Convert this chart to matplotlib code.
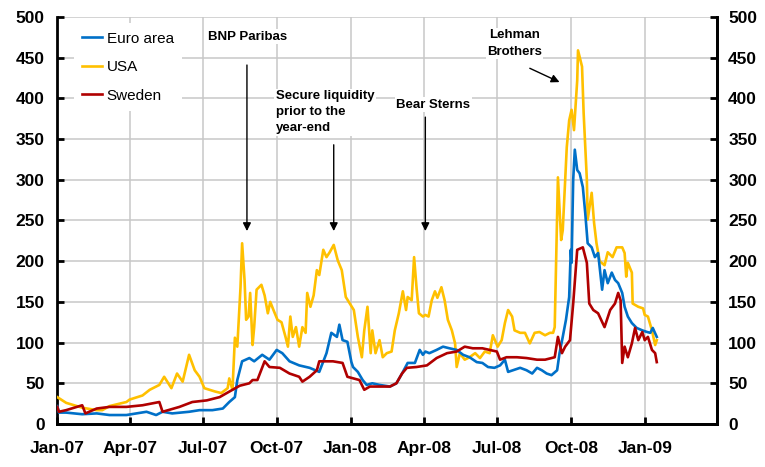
import pandas as pd
import matplotlib.pyplot as plt
import matplotlib.dates as mdates

plt.rcParams['font.family'] = ['Liberation Sans', 'DejaVu Sans']

# spreads, basis points
usa_dates = ['2007-01-01', '2007-01-12', '2007-02-01', '2007-02-19', '2007-02-26', '2007-03-07',
             '2007-03-28', '2007-04-01', '2007-04-17', '2007-04-26', '2007-05-08', '2007-05-14',
             '2007-05-23', '2007-05-30', '2007-06-06', '2007-06-14', '2007-06-21', '2007-06-27',
             '2007-07-03', '2007-07-16', '2007-07-24', '2007-08-01', '2007-08-03', '2007-08-07',
             '2007-08-10', '2007-08-13', '2007-08-17', '2007-08-19', '2007-08-22', '2007-08-24',
             '2007-08-27', '2007-08-29', '2007-09-01', '2007-09-03', '2007-09-06', '2007-09-12',
             '2007-09-16', '2007-09-20', '2007-09-23', '2007-09-27', '2007-10-02', '2007-10-07',
             '2007-10-12', '2007-10-15', '2007-10-18', '2007-10-21', '2007-10-25', '2007-10-29',
             '2007-11-02', '2007-11-06', '2007-11-08', '2007-11-12', '2007-11-16', '2007-11-20',
             '2007-11-23', '2007-11-28', '2007-12-02', '2007-12-06', '2007-12-11', '2007-12-16',
             '2007-12-21', '2007-12-26', '2007-12-31', '2008-01-05', '2008-01-10', '2008-01-15',
             '2008-01-18', '2008-01-22', '2008-01-26', '2008-01-28', '2008-02-01', '2008-02-06',
             '2008-02-10', '2008-02-15', '2008-02-21', '2008-02-25', '2008-03-01', '2008-03-06',
             '2008-03-10', '2008-03-12', '2008-03-17', '2008-03-20', '2008-03-23', '2008-03-26',
             '2008-03-31', '2008-04-03', '2008-04-07', '2008-04-11', '2008-04-15', '2008-04-18',
             '2008-04-23', '2008-04-27', '2008-05-01', '2008-05-06', '2008-05-10', '2008-05-12',
             '2008-05-16', '2008-05-22', '2008-05-28', '2008-06-04', '2008-06-10', '2008-06-16',
             '2008-06-22', '2008-06-26', '2008-07-02', '2008-07-07', '2008-07-11', '2008-07-15',
             '2008-07-20', '2008-07-23', '2008-07-30', '2008-08-05', '2008-08-11', '2008-08-17',
             '2008-08-23', '2008-08-30', '2008-09-05', '2008-09-09', '2008-09-11', '2008-09-15',
             '2008-09-19', '2008-09-21', '2008-09-24', '2008-09-26', '2008-09-29', '2008-10-02',
             '2008-10-05', '2008-10-09', '2008-10-10', '2008-10-15', '2008-10-17', '2008-10-21',
             '2008-10-22', '2008-10-27', '2008-10-30', '2008-11-02', '2008-11-06', '2008-11-12',
             '2008-11-16', '2008-11-22', '2008-11-27', '2008-12-04', '2008-12-07', '2008-12-09',
             '2008-12-11', '2008-12-16', '2008-12-17', '2008-12-24', '2008-12-30', '2009-01-01',
             '2009-01-05', '2009-01-10', '2009-01-14', '2009-01-16']
usa_values = [33, 26, 20, 17, 17, 22,
              27, 30, 35, 42, 48, 58,
              44, 62, 52, 85, 66, 58,
              44, 40, 38, 44, 56, 42,
              106, 95, 168, 222, 177, 128,
              132, 161, 97, 119, 165, 171,
              158, 136, 150, 140, 128, 125,
              107, 95, 132, 107, 119, 95,
              119, 112, 161, 144, 158, 189,
              183, 214, 205, 211, 220, 201,
              189, 156, 148, 140, 107, 82,
              115, 144, 87, 115, 87, 103,
              82, 87, 89, 115, 136, 163,
              140, 156, 152, 205, 168, 136,
              132, 134, 132, 152, 163, 155,
              168, 152, 128, 115, 99, 70,
              87, 79, 82, 87, 81, 89,
              87, 109, 95, 103, 124, 140,
              132, 115, 112, 112, 99, 112,
              113, 109, 112, 112, 119, 303,
              226, 238, 300, 340, 373, 386,
              361, 422, 459, 439, 382, 300,
              251, 284, 247, 222, 200, 195,
              211, 205, 217, 217, 210, 181,
              198, 186, 148, 144, 142, 134,
              132, 115, 97, 103]

euro_dates = ['2007-01-01', '2007-01-03', '2007-01-12', '2007-02-01', '2007-02-19', '2007-03-07',
              '2007-03-28', '2007-04-22', '2007-05-04', '2007-05-12', '2007-05-24', '2007-06-14',
              '2007-06-27', '2007-07-13', '2007-07-26', '2007-08-03', '2007-08-10', '2007-08-13',
              '2007-08-19', '2007-08-28', '2007-09-03', '2007-09-13', '2007-09-22', '2007-10-01',
              '2007-10-08', '2007-10-17', '2007-10-29', '2007-11-11', '2007-11-23', '2007-12-02',
              '2007-12-08', '2007-12-15', '2007-12-18', '2007-12-22', '2007-12-28', '2008-01-02',
              '2008-01-04', '2008-01-10', '2008-01-16', '2008-01-21', '2008-01-28', '2008-02-06',
              '2008-02-19', '2008-02-27', '2008-03-05', '2008-03-12', '2008-03-21', '2008-03-27',
              '2008-03-31', '2008-04-03', '2008-04-08', '2008-04-17', '2008-04-25', '2008-05-03',
              '2008-05-12', '2008-05-20', '2008-05-28', '2008-06-06', '2008-06-13', '2008-06-20',
              '2008-06-28', '2008-07-05', '2008-07-11', '2008-07-15', '2008-07-21', '2008-07-30',
              '2008-08-07', '2008-08-14', '2008-08-20', '2008-08-26', '2008-09-01', '2008-09-07',
              '2008-09-14', '2008-09-17', '2008-09-21', '2008-09-25', '2008-09-29', '2008-10-01',
              '2008-10-02', '2008-10-04', '2008-10-06', '2008-10-09', '2008-10-12', '2008-10-16',
              '2008-10-19', '2008-10-22', '2008-10-27', '2008-10-31', '2008-11-04', '2008-11-09',
              '2008-11-12', '2008-11-16', '2008-11-21', '2008-11-25', '2008-11-29', '2008-12-04',
              '2008-12-07', '2008-12-11', '2008-12-16', '2008-12-22', '2008-12-29', '2009-01-04',
              '2009-01-08', '2009-01-11', '2009-01-16']
euro_values = [22, 14, 14, 12, 13, 11,
               11, 15, 11, 15, 13, 15,
               17, 17, 19, 27, 33, 54,
               77, 81, 77, 85, 79, 91,
               87, 77, 72, 69, 64, 87,
               112, 107, 122, 103, 101, 76,
               70, 64, 54, 48, 50, 48,
               46, 50, 62, 75, 75, 91,
               85, 89, 87, 91, 95, 93,
               91, 85, 82, 76, 75, 70,
               69, 72, 79, 64, 66, 69,
               66, 62, 69, 66, 62, 60,
               66, 87, 107, 128, 156, 214,
               198, 300, 337, 312, 308, 291,
               259, 222, 217, 205, 210, 165,
               189, 173, 186, 177, 173, 161,
               144, 132, 124, 118, 115, 113,
               112, 118, 107]

swe_dates = ['2007-01-01', '2007-01-03', '2007-01-12', '2007-02-01', '2007-02-05', '2007-02-19',
             '2007-03-07', '2007-03-28', '2007-04-17', '2007-05-08', '2007-05-12', '2007-06-02',
             '2007-06-18', '2007-07-06', '2007-07-22', '2007-08-07', '2007-08-16', '2007-08-28',
             '2007-09-01', '2007-09-07', '2007-09-16', '2007-09-22', '2007-10-05', '2007-10-17',
             '2007-10-29', '2007-11-02', '2007-11-11', '2007-11-20', '2007-11-23', '2007-12-10',
             '2007-12-22', '2007-12-28', '2008-01-12', '2008-01-18', '2008-01-25', '2008-02-06',
             '2008-02-19', '2008-02-27', '2008-03-05', '2008-03-11', '2008-03-23', '2008-04-05',
             '2008-04-17', '2008-04-30', '2008-05-12', '2008-05-22', '2008-06-01', '2008-06-13',
             '2008-06-22', '2008-07-01', '2008-07-05', '2008-07-13', '2008-07-26', '2008-08-07',
             '2008-08-20', '2008-08-30', '2008-09-11', '2008-09-15', '2008-09-20', '2008-09-24',
             '2008-09-30', '2008-10-04', '2008-10-09', '2008-10-16', '2008-10-21', '2008-10-24',
             '2008-10-29', '2008-11-04', '2008-11-12', '2008-11-19', '2008-11-25', '2008-11-29',
             '2008-12-02', '2008-12-04', '2008-12-07', '2008-12-11', '2008-12-16', '2008-12-20',
             '2008-12-24', '2008-12-29', '2009-01-01', '2009-01-05', '2009-01-10', '2009-01-14',
             '2009-01-16']
swe_values = [21, 15, 17, 23, 13, 19,
              21, 21, 23, 27, 15, 21,
              27, 29, 33, 42, 47, 50,
              54, 54, 77, 70, 69, 62,
              58, 52, 58, 66, 77, 77,
              75, 58, 54, 42, 46, 46,
              46, 50, 62, 69, 70, 72,
              81, 87, 89, 95, 93, 93,
              91, 89, 79, 82, 82, 81,
              79, 79, 82, 107, 87, 95,
              103, 148, 214, 217, 198, 148,
              140, 136, 119, 140, 148, 161,
              152, 75, 95, 82, 99, 118,
              103, 113, 103, 107, 91, 87,
              76]

quarters = pd.date_range('2007-01-01', '2009-01-01', freq='QS')

fig = plt.figure(figsize=(7.65, 4.67), dpi=100)
ax = fig.add_axes([0.0749, 0.0921, 0.8624, 0.8715])

l_usa, = ax.plot(pd.to_datetime(usa_dates), usa_values, color='#FFC000', lw=1.9, zorder=3)
l_euro, = ax.plot(pd.to_datetime(euro_dates), euro_values, color='#0070C8', lw=1.9, zorder=4)
l_swe, = ax.plot(pd.to_datetime(swe_dates), swe_values, color='#B00000', lw=1.9, zorder=5)

ax.set_xlim(pd.Timestamp('2007-01-01'), pd.Timestamp('2009-04-01'))
ax.set_ylim(0, 500)
ax.set_yticks(range(0, 501, 50))
ax.set_xticks(quarters)
ax.xaxis.set_major_formatter(mdates.DateFormatter('%b-%y'))
ax.grid(True, color='#C8C8C8', lw=1.1, zorder=0)
ax.set_axisbelow(True)

ax2 = ax.twinx()
ax2.set_ylim(0, 500)
ax2.set_yticks(range(0, 501, 50))

for a in (ax, ax2):
    a.spines['top'].set_visible(False)
    for s in ('left', 'right', 'bottom'):
        a.spines[s].set_linewidth(2)
    a.tick_params(direction='in', length=5, width=2, labelsize=12.5)
    for lab in a.get_xticklabels() + a.get_yticklabels():
        lab.set_fontweight('bold')
ax.tick_params(axis='y', pad=9)
ax.tick_params(axis='x', pad=12)
ax2.tick_params(axis='y', pad=8)
ax2.spines['left'].set_visible(False)

leg = ax.legend([l_euro, l_usa, l_swe], ['Euro area', 'USA', 'Sweden'],
                loc='upper left', bbox_to_anchor=(0.025, 0.985), borderaxespad=0,
                fontsize=11, frameon=True, facecolor='white', edgecolor='none',
                framealpha=1, fancybox=False, borderpad=0.55, labelspacing=0.95,
                handlelength=1.3, handletextpad=0.3)

note = dict(fontsize=9.5, fontweight='bold', zorder=6,
            bbox=dict(facecolor='white', edgecolor='none', pad=1))
arrow = dict(arrowstyle='-|>', color='black', lw=1, mutation_scale=12, shrinkA=0, shrinkB=0)

ax.text(pd.Timestamp('2007-07-07'), 476, 'BNP Paribas', va='center', ha='left', **note)
ax.annotate('', xy=(pd.Timestamp('2007-08-25'), 237), xytext=(pd.Timestamp('2007-08-25'), 441),
            arrowprops=arrow)

ax.text(pd.Timestamp('2007-09-30'), 410, 'Secure liquidity\nprior to the\nyear-end',
        va='top', ha='left', linespacing=1.45, **note)
ax.annotate('', xy=(pd.Timestamp('2007-12-11'), 237), xytext=(pd.Timestamp('2007-12-11'), 343),
            arrowprops=arrow)

ax.text(pd.Timestamp('2008-02-27'), 392, 'Bear Sterns', va='center', ha='left', **note)
ax.annotate('', xy=(pd.Timestamp('2008-04-03'), 237), xytext=(pd.Timestamp('2008-04-03'), 377),
            arrowprops=arrow)

ax.text(pd.Timestamp('2008-07-23'), 485, 'Lehman\nBrothers', va='top', ha='center',
        linespacing=1.5, **note)
ax.annotate('', xy=(pd.Timestamp('2008-09-17'), 420), xytext=(pd.Timestamp('2008-08-11'), 437),
            arrowprops=arrow)

plt.savefig('out.png', dpi=100)
